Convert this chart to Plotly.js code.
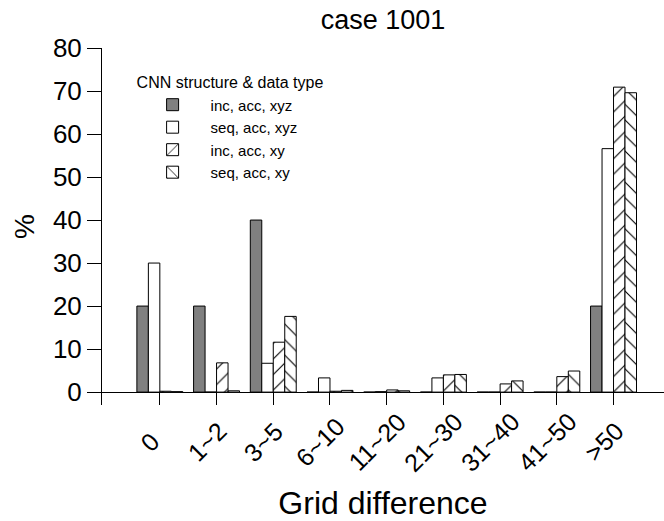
<!DOCTYPE html>
<html>
<head>
<meta charset="utf-8">
<script src="https://cdn.plot.ly/plotly-3.0.1.min.js"></script>
<style>html,body{margin:0;padding:0;background:#fff;}#chart{width:664px;height:521px;}</style>
</head>
<body>
<div id="chart"></div>
<script>
const categories = ["0", "1~2", "3~5", "6~10", "11~20", "21~30", "31~40", "41~50", ">50"];
const incAccXyz = [20, 20, 40, 0, 0, 0, 0, 0, 20];
const seqAccXyz = [30, 0, 6.7, 3.3, 0.1, 3.3, 0, 0, 56.6];
const incAccXy = [0.2, 6.8, 11.6, 0.2, 0.5, 4.0, 1.9, 3.6, 70.9];
const seqAccXy = [0.1, 0.3, 17.6, 0.4, 0.3, 4.1, 2.6, 4.9, 69.6];
const seriesNames = ["inc, acc, xyz", "seq, acc, xyz", "inc, acc, xy", "seq, acc, xy"];
const yTicks = [0, 10, 20, 30, 40, 50, 60, 70, 80];

const FONT = "Liberation Sans, Arial, sans-serif";
const xIdx = categories.map((c, i) => i);
const line = {color: "#000", width: 1};

const traces = [
  {type: "bar", name: seriesNames[0], x: xIdx, y: incAccXyz,
   marker: {color: "#808080", line: line}},
  {type: "bar", name: seriesNames[1], x: xIdx, y: seqAccXyz,
   marker: {color: "#ffffff", line: line}},
  {type: "bar", name: seriesNames[2], x: xIdx, y: incAccXy,
   marker: {color: "#ffffff", line: line,
     pattern: {shape: "/", bgcolor: "#ffffff", fgcolor: "#000000", size: 11, solidity: 0.1}}},
  {type: "bar", name: seriesNames[3], x: xIdx, y: seqAccXy,
   marker: {color: "#ffffff", line: line,
     pattern: {shape: "\\", bgcolor: "#ffffff", fgcolor: "#000000", size: 11, solidity: 0.1}}}
];

// rotated category labels, centred below each tick (rotation about the label centre)
const tickLabels = categories.map((c, i) => ({
  text: c, x: i, xref: "x", y: 0, yref: "paper", yanchor: "middle", xanchor: "center",
  xshift: -10, yshift: -37, textangle: -45, showarrow: false,
  font: {family: FONT, size: 25, color: "#000"}
}));

const layout = {
  width: 664, height: 521,
  margin: {l: 102, r: 0, t: 48, b: 116},
  paper_bgcolor: "#fff", plot_bgcolor: "#fff",
  font: {family: FONT, color: "#000"},
  barmode: "group", bargap: 0.19, bargroupgap: 0,
  title: {text: "case 1001", font: {family: FONT, size: 27, color: "#000"},
          x: 0.5, xref: "paper", y: 0.962, yref: "container", yanchor: "middle"},
  xaxis: {
    range: [-1.02, 8.89], tickmode: "array", tickvals: xIdx, ticktext: categories,
    showticklabels: false,
    ticks: "inside", ticklen: 13, tickwidth: 1, tickcolor: "#000",
    showline: false, showgrid: false, zeroline: false,
    title: {text: "Grid difference", font: {family: FONT, size: 32, color: "#000"}, standoff: 86}
  },
  yaxis: {
    range: [-3, 80], tickmode: "array", tickvals: yTicks,
    ticks: "outside", ticklen: 14, tickwidth: 1, tickcolor: "#000",
    showline: true, linecolor: "#000", linewidth: 1,
    showgrid: false, zeroline: true, zerolinecolor: "#000", zerolinewidth: 1,
    tickfont: {family: FONT, size: 26, color: "#000"},
    title: {text: "%", font: {family: FONT, size: 28, color: "#000"}, standoff: 10}
  },
  annotations: tickLabels,
  showlegend: true,
  legend: {
    x: 0.058, y: 0.945, xanchor: "left", yanchor: "top",
    bgcolor: "rgba(0,0,0,0)", borderwidth: 0,
    title: {text: "CNN structure & data type", font: {family: FONT, size: 16, color: "#000"}},
    font: {family: FONT, size: 15, color: "#000"},
    itemwidth: 66, traceorder: "normal"
  }
};

Plotly.newPlot("chart", traces, layout, {displayModeBar: false, staticPlot: true});
</script>
</body>
</html>
